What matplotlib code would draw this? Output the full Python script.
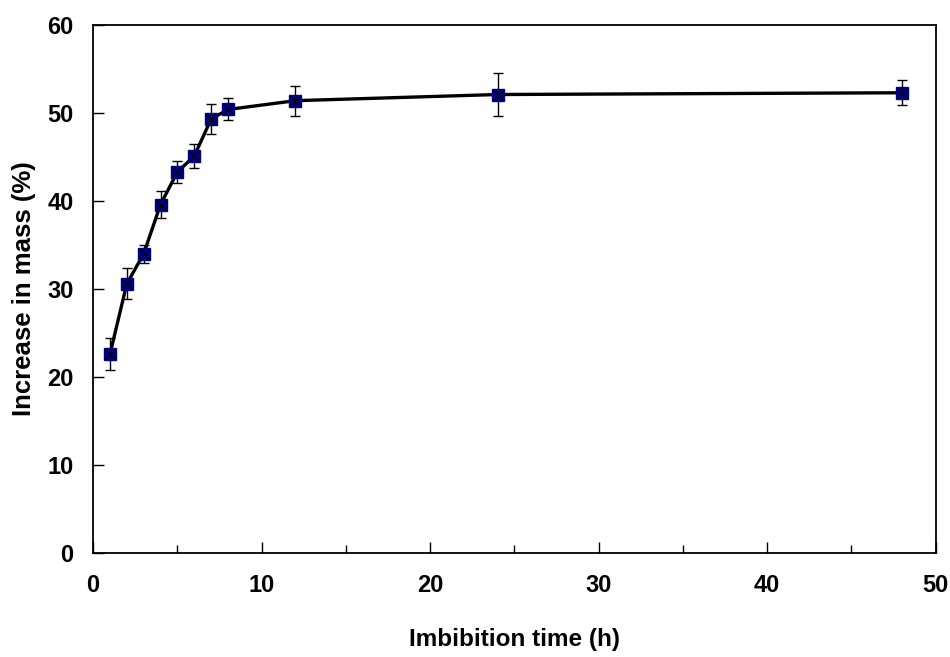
import numpy as np
import matplotlib
matplotlib.use('Agg')
import matplotlib.pyplot as plt
from matplotlib.ticker import MultipleLocator

plt.rcParams['font.family'] = ['Liberation Sans', 'DejaVu Sans']

# imbibition time (h) and mass increase (%) with error
time_h = [1, 2, 3, 4, 5, 6, 7, 8, 12, 24, 48]
mass_pct = [22.6, 30.6, 34.0, 39.6, 43.3, 45.1, 49.3, 50.4, 51.4, 52.1, 52.3]
err_pct = [1.8, 1.75, 1.0, 1.5, 1.2, 1.4, 1.7, 1.25, 1.7, 2.4, 1.4]

fig = plt.figure(figsize=(9.5, 6.57), dpi=100)
ax = fig.add_axes([0.098, 0.158, 0.887, 0.804])

ax.errorbar(time_h, mass_pct, yerr=err_pct, fmt='none', ecolor='black',
            elinewidth=1, capsize=3.5, capthick=1, zorder=2)
ax.plot(time_h, mass_pct, color='black', lw=2.4, zorder=3)
ax.plot(time_h, mass_pct, ls='none', marker='s', ms=8.5, mfc='#000080',
        mec='#000080', zorder=4)
ax.plot(time_h, mass_pct, ls='none', marker='x', ms=7.5, mec='black',
        mew=0.8, zorder=5)

ax.set_xlim(0, 50)
ax.set_ylim(0, 60)
ax.xaxis.set_major_locator(MultipleLocator(10))
ax.xaxis.set_minor_locator(MultipleLocator(5))
ax.yaxis.set_major_locator(MultipleLocator(10))
ax.tick_params(which='both', direction='in', top=False, right=False,
               labelsize=17, width=1)
ax.tick_params(which='major', length=8)
ax.tick_params(which='minor', length=6)
ax.tick_params(axis='x', pad=15)
ax.tick_params(axis='y', pad=14)
for lab in ax.get_xticklabels() + ax.get_yticklabels():
    lab.set_fontweight('bold')
for s in ax.spines.values():
    s.set_linewidth(1.3)

ax.set_xlabel('Imbibition time (h)', fontsize=17.5, fontweight='bold', labelpad=22)
ax.set_ylabel('Increase in mass (%)', fontsize=18.5, fontweight='bold', labelpad=8)

fig.savefig('out.png', dpi=100)
